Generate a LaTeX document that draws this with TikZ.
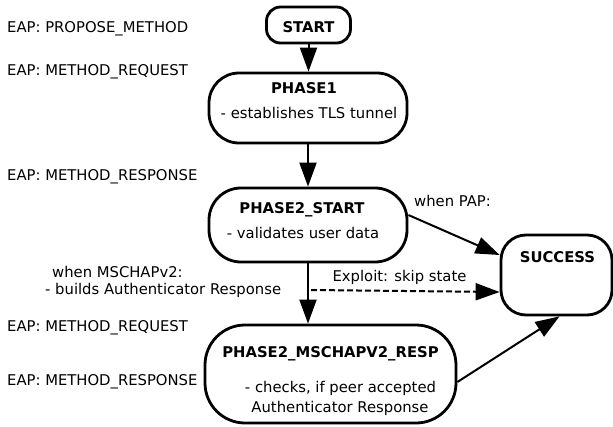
\documentclass[tikz,border=0pt]{standalone}
\usepackage{fontspec}
\setmainfont{DejaVu Sans}
\usetikzlibrary{arrows.meta}
\begin{document}
\begin{tikzpicture}[x=1pt,y=-1pt,
  txt/.style={font=\fontsize{14.8}{17}\selectfont, inner sep=0pt},
  btxt/.style={font=\fontsize{14.8}{17}\selectfont\bfseries, inner sep=0pt, anchor=base},
  ntxt/.style={font=\fontsize{14.8}{17}\selectfont, inner sep=0pt, anchor=base},
  lbl/.style={txt, anchor=base west},
  box/.style={draw, line width=2.8pt, rounded corners=#1, inner sep=0pt},
  arr/.style={line width=2pt, -{Triangle[length=24pt,width=17pt]}},
  darr/.style={arr, dash pattern=on 6pt off 3pt}]
\useasboundingbox (0,0) rectangle (613,426);

% left side labels
\node[lbl] (l1) at (7,32.5) {EAP: PROPOSE\_METHOD};
\node[lbl] (l2) at (7,75.5) {EAP: METHOD\_REQUEST};
\node[lbl] (l3) at (7,180.5) {EAP: METHOD\_RESPONSE};
\node[lbl] (l4) at (52,277.5) {when MSCHAPv2:};
\node[lbl] (l5) at (45,294.5) {- builds Authenticator Response};
\node[lbl] (l6) at (7,331.5) {EAP: METHOD\_REQUEST};
\node[lbl] (l7) at (7,385.5) {EAP: METHOD\_RESPONSE};

% boxes
\node[box=14pt, minimum width=84pt, minimum height=36pt] (start) at (308.5,25) {};
\node[box=30pt, minimum width=198pt, minimum height=70pt] (p1) at (308,108) {};
\node[box=32pt, minimum width=198pt, minimum height=74pt] (p2s) at (308,225) {};
\node[box=25pt, minimum width=111pt, minimum height=80pt] (succ) at (556.5,275) {};
\node[box=40pt, minimum width=251pt, minimum height=98pt] (m) at (330.5,374) {};

% box texts
\node[btxt] (tstart) at (308.5,32) {START};
\node[btxt] (tp1a) at (304,93.5) {PHASE1};
\node[ntxt] (tp1b) at (309,118.5) {- establishes TLS tunnel};
\node[btxt] (tp2a) at (302,213.5) {PHASE2\_START};
\node[ntxt] (tp2b) at (303,238.5) {- validates user data};
\node[btxt] (tsucc) at (557.5,262.5) {SUCCESS};
\node[btxt] (tma) at (330.5,357.5) {PHASE2\_MSCHAPV2\_RESP};
\node[ntxt] (tmb) at (340.5,392.5) {- checks, if peer accepted};
\node[ntxt] (tmc) at (340,412.5) {Authenticator Response};

% connectors
\draw[arr] (start.south) -- (start.south |- p1.north);
\draw[arr] (p1.south) -- (p2s.north);
\draw[arr] (p2s.south) -- (p2s.south |- m.north);
\draw[arr] ([yshift=10pt]p2s.east) -- ([yshift=20pt]succ.west);
\coordinate (ex) at (311,290);
\draw[darr] (ex) -- ([yshift=-17pt]succ.west);
\draw[arr] ([yshift=-8pt]m.east) -- ([xshift=3pt]succ.south);

% edge labels
\node[ntxt] (pap) at (452.5,206.5) {when PAP:};
\node[ntxt] (expl) at (399.5,281.5) {Exploit: skip state};
\end{tikzpicture}
\end{document}
